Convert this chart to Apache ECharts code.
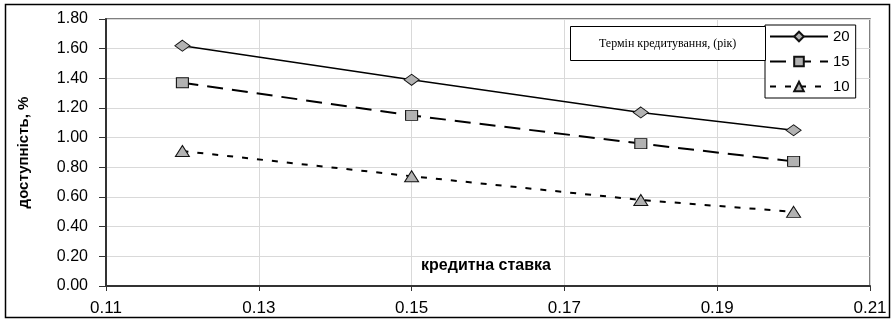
<!DOCTYPE html>
<html>
<head>
<meta charset="utf-8">
<script src="https://cdn.jsdelivr.net/npm/echarts@6/dist/echarts.min.js"></script>
<style>
  html, body { margin: 0; padding: 0; background: #fff; }
  #chart { width: 894px; height: 320px; }
</style>
</head>
<body>
<div id="chart"></div>
<script>
// кредитна ставка
var rates = [0.12, 0.15, 0.18, 0.20];
// доступність, % by term (years)
var term20 = [1.62, 1.39, 1.17, 1.05];
var term15 = [1.37, 1.15, 0.96, 0.84];
var term10 = [0.91, 0.74, 0.58, 0.50];
var termNames = ['20', '15', '10'];

function pairs(vals) {
  return rates.map(function (r, i) { return [r, vals[i]]; });
}

var font = 'Liberation Sans, Arial, sans-serif';
var markerStyle = { color: '#b2b2b2', borderColor: '#111', borderWidth: 1 };

var chart = echarts.init(document.getElementById('chart'));
chart.setOption({
  animation: false,
  backgroundColor: '#fff',
  title: {
    text: 'Термін кредитування, (рік)',
    left: 570,
    top: 26,
    padding: [12, 29, 11, 29],
    borderColor: '#000',
    borderWidth: 1,
    backgroundColor: '#fff',
    textStyle: { fontFamily: 'Liberation Serif, Times New Roman, serif', fontSize: 12, fontWeight: 'normal', color: '#000' }
  },
  legend: {
    orient: 'vertical',
    left: 765,
    top: 25,
    padding: [4, 6, 4, 4],
    itemGap: 10,
    itemWidth: 58,
    itemHeight: 12,
    borderColor: '#000',
    borderWidth: 1,
    backgroundColor: '#fff',
    textStyle: { fontFamily: font, fontSize: 15, color: '#000' },
    data: termNames
  },
  grid: {
    left: 106, right: 24, top: 19, bottom: 34,
    show: true, borderColor: '#555', borderWidth: 1.5
  },
  xAxis: {
    type: 'value',
    min: 0.11, max: 0.21, interval: 0.02,
    axisLine: { lineStyle: { color: '#333', width: 2 } },
    axisTick: { show: true, length: 5, lineStyle: { color: '#333' } },
    axisLabel: { fontFamily: font, fontSize: 17, color: '#000', margin: 14,
      formatter: function (v) { return v.toFixed(2); } },
    splitLine: { show: true, lineStyle: { color: '#d9d9d9', width: 1 } }
  },
  yAxis: {
    type: 'value',
    min: 0, max: 1.8, interval: 0.2,
    name: 'доступність, %',
    nameLocation: 'middle',
    nameGap: 75,
    nameRotate: 90,
    nameTextStyle: { fontFamily: font, fontSize: 15, fontWeight: 'bold', color: '#000' },
    axisLine: { show: true, lineStyle: { color: '#333', width: 2 } },
    axisTick: { show: true, length: 7, lineStyle: { color: '#333' } },
    axisLabel: { fontFamily: font, fontSize: 16, color: '#000', margin: 18,
      formatter: function (v) { return v.toFixed(2); } },
    splitLine: { show: true, lineStyle: { color: '#d9d9d9', width: 1 } }
  },
  series: [
    {
      name: termNames[0], type: 'line', data: pairs(term20),
      symbol: 'diamond', symbolSize: [15, 11],
      lineStyle: { color: '#000', width: 1.5, type: 'solid' },
      itemStyle: markerStyle
    },
    {
      name: termNames[1], type: 'line', data: pairs(term15),
      symbol: 'rect', symbolSize: [12, 10],
      lineStyle: { color: '#000', width: 2, type: [16, 9] },
      itemStyle: markerStyle
    },
    {
      name: termNames[2], type: 'line', data: pairs(term10),
      symbol: 'triangle', symbolSize: [14, 11],
      lineStyle: { color: '#000', width: 2, type: [6, 9] },
      itemStyle: markerStyle
    }
  ],
  graphic: [
    {
      type: 'rect',
      shape: { x: 5.5, y: 4.5, width: 884, height: 313 },
      style: { fill: 'none', stroke: '#000', lineWidth: 1.5 },
      silent: true
    },
    {
      // x-axis title sits inside the plot, above the axis
      type: 'text',
      x: 486, y: 266,
      style: {
        text: 'кредитна ставка',
        fontFamily: font, fontSize: 16, fontWeight: 'bold', fill: '#000',
        align: 'center', verticalAlign: 'middle'
      },
      silent: true
    }
  ]
});
</script>
</body>
</html>
